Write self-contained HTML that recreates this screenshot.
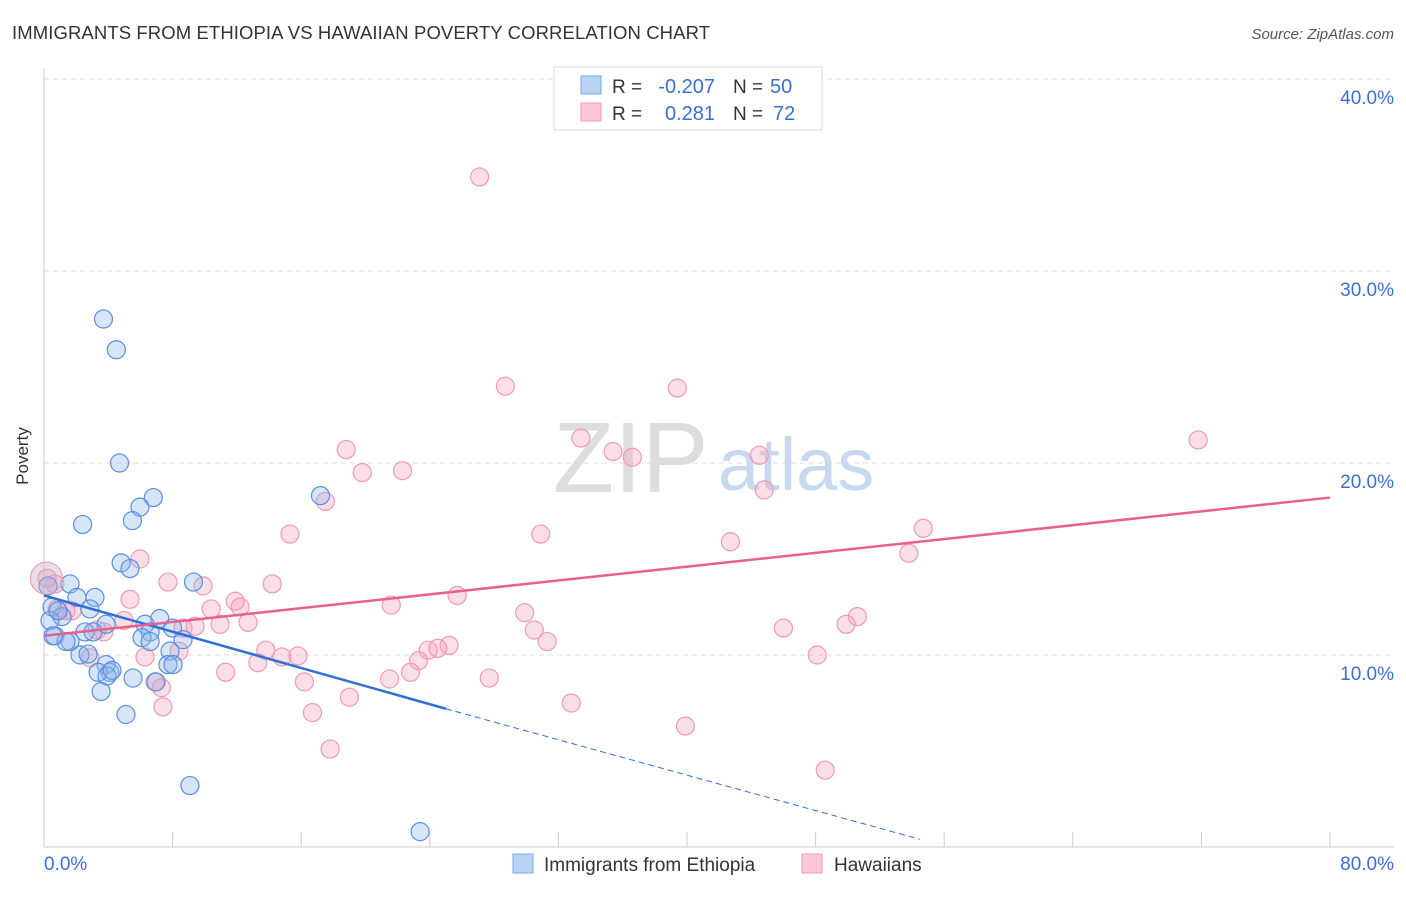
<!DOCTYPE html>
<html><head><meta charset="utf-8"><style>
body{margin:0;background:#fff;font-family:"Liberation Sans",sans-serif}
svg text{font-family:"Liberation Sans",sans-serif}
</style></head><body>
<svg id="chart" width="1406" height="892">
<text x="12" y="39" font-size="18.5" fill="#333" textLength="698">IMMIGRANTS FROM ETHIOPIA VS HAWAIIAN POVERTY CORRELATION CHART</text>
<text x="1394" y="39" font-size="15" fill="#555" font-style="italic" text-anchor="end">Source: ZipAtlas.com</text>
<text x="28" y="456" font-size="17" fill="#333" transform="rotate(-90 28 456)" text-anchor="middle">Poverty</text>
<g id="grid"></g>
<text x="553" y="492" font-size="100" fill="#ddd" font-family="Liberation Serif">ZIP</text>
<text x="718" y="490" font-size="74" fill="#c8d8ee">atlas</text>
<g id="marks"></g>
<g>
<rect x="554" y="67" width="268" height="63" fill="#fff" stroke="#ddd"/>
<rect x="581" y="76" width="20" height="18" fill="#b9d3f5" stroke="#7aa7e6"/>
<rect x="581" y="103" width="20" height="18" fill="#fbc8d6" stroke="#ef9ab3"/>
<text x="612" y="93" font-size="19" fill="#333">R =</text>
<text x="715" y="93" font-size="20" fill="#3a6fd0" text-anchor="end">-0.207</text>
<text x="733" y="93" font-size="19" fill="#333">N =</text>
<text x="770" y="93" font-size="20" fill="#3a6fd0">50</text>
<text x="612" y="120" font-size="19" fill="#333">R =</text>
<text x="715" y="120" font-size="20" fill="#3a6fd0" text-anchor="end">0.281</text>
<text x="733" y="120" font-size="19" fill="#333">N =</text>
<text x="773" y="120" font-size="20" fill="#3a6fd0">72</text>
</g>
<g>
<rect x="513" y="854" width="20" height="19" fill="#b9d3f5" stroke="#7aa7e6"/>
<text x="544" y="871" font-size="19" fill="#333">Immigrants from Ethiopia</text>
<rect x="802" y="854" width="20" height="19" fill="#fbc8d6" stroke="#ef9ab3"/>
<text x="834" y="871" font-size="19" fill="#333">Hawaiians</text>
</g>
</svg>
<script>
const xTicks=[0,80];
const yTicks=[10,20,30,40];
const blueX=[3.7,4.5,4.7,6.8,5.97,5.5,2.4,4.8,5.35,1.62,9.3,0.25,3.17,2.05,2.86,0.5,7.2,1.12,6.28,3.86,6.6,8.0,6.1,6.6,8.65,0.68,1.62,1.37,2.55,2.24,2.74,7.84,7.71,8.03,3.86,4.1,3.36,3.92,5.54,6.97,3.55,5.1,9.08,23.4,17.2,0.37,0.87,0.56,3.05,4.23];
const blueY=[27.5,25.9,20.0,18.2,17.7,17.0,16.8,14.8,14.5,13.7,13.8,13.6,13.0,13.0,12.4,12.5,11.9,12.0,11.6,11.6,11.2,11.4,10.9,10.7,10.8,11.0,10.7,10.7,11.2,10.0,10.05,10.2,9.5,9.5,9.5,9.1,9.1,8.9,8.8,8.6,8.1,6.9,3.2,0.8,18.3,11.8,12.3,11.0,11.2,9.2];
const pinkX=[27.1,28.7,39.4,71.8,18.8,33.4,35.4,36.6,44.5,22.3,19.8,44.8,17.5,15.3,30.9,54.7,42.7,53.8,5.97,7.71,9.9,14.2,25.7,11.9,5.35,12.2,21.6,10.4,29.9,50.6,49.9,46.0,30.5,9.4,10.95,12.7,8.65,4.98,31.3,25.2,23.9,24.5,13.8,15.8,14.8,23.3,22.8,13.3,11.3,48.1,6.28,8.4,2.86,27.7,16.2,19.0,21.5,6.9,7.3,16.7,32.8,39.9,17.8,48.6,7.4,0.81,1.74,3.73,3.3,0.68,0.19,1.37];
const pinkY=[34.9,24.0,23.9,21.2,20.7,21.3,20.6,20.3,20.4,19.6,19.5,18.6,18.0,16.3,16.3,16.6,15.9,15.3,15.0,13.8,13.6,13.7,13.1,12.8,12.9,12.5,12.6,12.4,12.2,12.0,11.6,11.4,11.3,11.5,11.6,11.7,11.4,11.8,10.7,10.5,10.25,10.35,10.25,9.95,9.9,9.7,9.1,9.6,9.1,10.0,9.9,10.2,9.85,8.8,8.6,7.8,8.75,8.6,8.3,7.0,7.5,6.3,5.1,4.0,7.3,12.4,12.3,11.2,11.3,13.7,14.0,12.3];
const blueFit=[0,13.1,25,7.2,54.5,0.4];
const pinkFit=[0,11.0,80,18.2];
const X=v=>44+v*16.075, Y=v=>847-v*19.2;
const ns="http://www.w3.org/2000/svg";
const grid=document.getElementById('grid'), marks=document.getElementById('marks');
function mk(tag,attrs,parent){const e=document.createElementNS(ns,tag);for(const k in attrs)e.setAttribute(k,attrs[k]);parent.appendChild(e);return e;}
let l=mk('line',{x1:44,y1:68,x2:44,y2:847,stroke:'#ccc'},grid);


l=mk('line',{x1:44,y1:847,x2:1394,y2:847,stroke:'#ccc'},grid);


for(let i=1;i<=10;i++){const t=mk('line',{x1:X(i*8),y1:832,x2:X(i*8),y2:847,stroke:'#ccc'},grid);

}
yTicks.forEach(v=>{const g=mk('line',{x1:44,y1:Y(v),x2:1394,y2:Y(v),stroke:'#ddd','stroke-dasharray':'5,4'},grid);


const t=mk('text',{x:1394,y:Y(v)+25,'font-size':19,fill:'#3a6fd0','text-anchor':'end'},grid);t.textContent=v.toFixed(1)+'%';

});
xTicks.forEach((v,i)=>{const t=mk('text',{x:i?1394:44,y:870,'font-size':19,fill:'#3a6fd0','text-anchor':i?'end':'start'},grid);t.textContent=v.toFixed(1)+'%';

});
pinkX.forEach((x,i)=>{const c=mk('circle',{cx:X(x),cy:Y(pinkY[i]),r:9,fill:'rgba(247,160,185,0.35)',stroke:'#ef9ab3','stroke-width':1.2},marks);

});
blueX.forEach((x,i)=>{const c=mk('circle',{cx:X(x),cy:Y(blueY[i]),r:9,fill:'rgba(140,180,235,0.35)',stroke:'#5a8fe0','stroke-width':1.2},marks);

});
const big=mk('circle',{cx:X(0.15),cy:Y(14),r:16,fill:'rgba(200,170,200,0.4)',stroke:'#e8a0b8','stroke-width':1.2},marks);


let f=mk('line',{x1:X(blueFit[0]),y1:Y(blueFit[1]),x2:X(blueFit[2]),y2:Y(blueFit[3]),stroke:'#2f6fd6','stroke-width':2.5},marks);


f=mk('line',{x1:X(blueFit[2]),y1:Y(blueFit[3]),x2:X(blueFit[4]),y2:Y(blueFit[5]),stroke:'#2f6fd6','stroke-width':1,'stroke-dasharray':'6,4'},marks);


f=mk('line',{x1:X(pinkFit[0]),y1:Y(pinkFit[1]),x2:X(pinkFit[2]),y2:Y(pinkFit[3]),stroke:'#e8608e','stroke-width':2.5},marks);


</script>
</body></html>
